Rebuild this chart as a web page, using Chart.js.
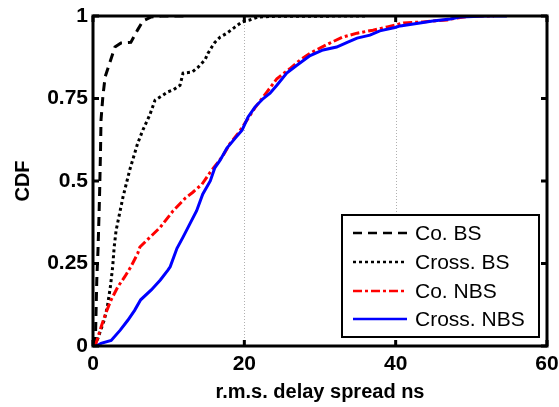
<!DOCTYPE html>
<html>
<head>
<meta charset="utf-8">
<script src="https://cdn.jsdelivr.net/npm/chart.js@4"></script>
<style>
  html, body { margin: 0; padding: 0; background: #fff; }
  #wrap { width: 559px; height: 407px; }
</style>
</head>
<body>
<div id="wrap"><canvas id="cdf"></canvas></div>
<script>
// values (x = r.m.s. delay spread in ns, y = CDF)
const coBsX = [0.3, 0.4, 0.5, 0.66, 0.8, 0.88, 1.0, 1.06, 1.3, 1.6, 2.2, 2.9, 3.7, 5.0, 5.9, 6.6, 7.7, 9.0, 12.5];
const coBsY = [0, 0.1, 0.2, 0.29, 0.4, 0.47, 0.6, 0.685, 0.755, 0.815, 0.857, 0.906, 0.918, 0.92, 0.958, 0.985, 0.997, 1, 1];

const crossBsX = [0.3, 0.9, 1.5, 1.9, 2.3, 2.6, 2.8, 3.05, 3.5, 3.96, 4.85, 5.9, 6.6, 7.5, 8.2, 8.9, 9.9, 10.6, 11.5, 11.9, 13.1, 13.9, 14.8, 15.2, 15.7, 16.1, 16.8, 17.7, 18.8, 19.7, 20.7, 21.8, 24, 36];
const crossBsY = [0, 0.04, 0.08, 0.12, 0.18, 0.24, 0.30, 0.35, 0.40, 0.451, 0.533, 0.614, 0.655, 0.70, 0.745, 0.755, 0.77, 0.776, 0.79, 0.827, 0.83, 0.845, 0.867, 0.887, 0.906, 0.92, 0.936, 0.948, 0.967, 0.982, 0.988, 0.997, 0.999, 1];

const coNbsX = [0.2, 0.4, 1.06, 1.7, 2.4, 3.3, 4.2, 5.0, 5.9, 6.2, 8.9, 10.6, 12.2, 13.2, 14.4, 15.5, 16.4, 17.2, 18.1, 19.2, 20.5, 21.5, 23.0, 24.3, 26.0, 27.4, 28.9, 31.3, 33.0, 34.9, 37.0, 38.9, 41, 43.6, 46.8, 48, 50.2, 53];
const coNbsY = [0, 0.008, 0.057, 0.1, 0.14, 0.18, 0.21, 0.24, 0.28, 0.30, 0.36, 0.41, 0.448, 0.466, 0.49, 0.527, 0.553, 0.578, 0.613, 0.645, 0.69, 0.725, 0.77, 0.81, 0.84, 0.867, 0.89, 0.918, 0.936, 0.948, 0.957, 0.967, 0.979, 0.982, 0.988, 0.994, 1.0, 1.0];

const crossNbsX = [0.5, 1.06, 2.4, 3.6, 4.6, 5.5, 6.3, 7.7, 8.9, 9.9, 10.2, 11.1, 11.9, 12.8, 13.7, 14.5, 15.5, 16.1, 16.8, 17.7, 18.8, 19.7, 20.5, 21.4, 22.5, 23.4, 24.3, 25.6, 26.9, 28.7, 30.4, 32.2, 33.6, 34.9, 36.6, 37.9, 39.9, 40.6, 43.2, 44.9, 47.2, 48.5, 52, 54.7];
const crossNbsY = [0, 0.008, 0.017, 0.048, 0.078, 0.108, 0.14, 0.17, 0.2, 0.23, 0.24, 0.296, 0.33, 0.37, 0.41, 0.46, 0.50, 0.54, 0.563, 0.6, 0.63, 0.654, 0.694, 0.724, 0.75, 0.766, 0.79, 0.827, 0.85, 0.88, 0.897, 0.906, 0.92, 0.933, 0.942, 0.955, 0.965, 0.97, 0.979, 0.985, 0.991, 0.997, 1.0, 1.0];

const seriesNames = ['Co. BS', 'Cross. BS', 'Co. NBS', 'Cross. NBS'];
const xTicks = [0, 20, 40, 60];
const yTicks = [0, 0.25, 0.5, 0.75, 1];
const xGridAt = [20, 40];

const FONT = "'Liberation Sans', Arial, sans-serif";

function pts(xs, ys) {
    return xs.map((x, i) => ({ x: x, y: ys[i] }));
}

// MATLAB-like frame: box, inward ticks, dotted vertical grid, legend box
const matlabFrame = {
    id: 'matlabFrame',
    beforeDatasetsDraw(chart) {
        const { ctx, chartArea: a, scales: { x } } = chart;
        ctx.save();
        ctx.strokeStyle = '#b0b0b0';
        ctx.lineWidth = 1;
        ctx.setLineDash([1, 2]);
        xGridAt.forEach(v => {
            const px = Math.round(x.getPixelForValue(v)) + 0.5;
            ctx.beginPath();
            ctx.moveTo(px, a.top);
            ctx.lineTo(px, a.bottom);
            ctx.stroke();
        });
        ctx.restore();
    },
    afterDatasetsDraw(chart) {
        const { ctx, chartArea: a, scales: { x, y } } = chart;
        ctx.save();
        ctx.strokeStyle = '#000';
        ctx.lineWidth = 3;
        ctx.setLineDash([]);
        ctx.strokeRect(a.left, a.top, a.right - a.left, a.bottom - a.top);

        const tl = 6;
        ctx.lineWidth = 3;
        xTicks.forEach(v => {
            const px = x.getPixelForValue(v);
            ctx.beginPath();
            ctx.moveTo(px, a.bottom); ctx.lineTo(px, a.bottom - tl);
            ctx.moveTo(px, a.top); ctx.lineTo(px, a.top + tl);
            ctx.stroke();
        });
        yTicks.forEach(v => {
            const py = y.getPixelForValue(v);
            ctx.beginPath();
            ctx.moveTo(a.left, py); ctx.lineTo(a.left + tl, py);
            ctx.moveTo(a.right, py); ctx.lineTo(a.right - tl, py);
            ctx.stroke();
        });

        // legend
        const box = { l: 342, t: 215, r: 539, b: 337 };
        ctx.fillStyle = '#fff';
        ctx.fillRect(box.l, box.t, box.r - box.l, box.b - box.t);
        ctx.lineWidth = 2;
        ctx.strokeRect(box.l, box.t, box.r - box.l, box.b - box.t);
        const rowY = [233, 262, 291, 319];
        ctx.font = '21px ' + FONT;
        ctx.textBaseline = 'middle';
        ctx.textAlign = 'left';
        chart.data.datasets.forEach((ds, i) => {
            const yy = rowY[i];
            ctx.strokeStyle = ds.borderColor;
            ctx.lineWidth = Math.min(ds.borderWidth, 2.5);
            ctx.setLineDash(ds.borderDash || []);
            ctx.beginPath();
            ctx.moveTo(353, yy);
            ctx.lineTo(407, yy);
            ctx.stroke();
            ctx.setLineDash([]);
            ctx.fillStyle = '#000';
            ctx.fillText(ds.label, 415, yy + 1);
        });
        ctx.restore();
    }
};

new Chart(document.getElementById('cdf'), {
    type: 'line',
    data: {
        datasets: [
            { label: seriesNames[0], data: pts(coBsX, coBsY), borderColor: '#000', borderWidth: 3, borderDash: [9, 6], order: 3 },
            { label: seriesNames[1], data: pts(crossBsX, crossBsY), borderColor: '#000', borderWidth: 3, borderDash: [3, 3], order: 2 },
            { label: seriesNames[2], data: pts(coNbsX, coNbsY), borderColor: '#ff0000', borderWidth: 3, borderDash: [9, 3, 3, 3], order: 1 },
            { label: seriesNames[3], data: pts(crossNbsX, crossNbsY), borderColor: '#0000ff', borderWidth: 3, order: 0 }
        ]
    },
    options: {
        responsive: true,
        maintainAspectRatio: false,
        animation: false,
        elements: { point: { radius: 0 }, line: { tension: 0, fill: false } },
        layout: { padding: { left: 0, right: 12, top: 16, bottom: 0 } },
        plugins: { legend: { display: false }, tooltip: { enabled: false } },
        scales: {
            x: {
                type: 'linear',
                min: 0, max: 60,
                afterBuildTicks: s => { s.ticks = xTicks.map(v => ({ value: v })); },
                afterFit: s => { s.height = 61; s.paddingLeft = 0; s.paddingRight = 0; },
                grid: { display: false, drawTicks: false },
                border: { display: false },
                ticks: { color: '#000', padding: 6, maxRotation: 0, font: { family: FONT, size: 21, weight: 'bold' } },
                title: { display: true, text: 'r.m.s. delay spread ns', color: '#000', padding: { top: 0, bottom: 3 }, font: { family: FONT, size: 20, weight: 'bold' } }
            },
            y: {
                type: 'linear',
                min: 0, max: 1,
                afterBuildTicks: s => { s.ticks = yTicks.map(v => ({ value: v })); },
                afterFit: s => { s.width = 93; s.paddingTop = 0; s.paddingBottom = 0; },
                grid: { display: false, drawTicks: false },
                border: { display: false },
                ticks: { color: '#000', padding: 5, callback: v => String(v), font: { family: FONT, size: 21, weight: 'bold' } },
                title: { display: true, text: 'CDF', color: '#000', padding: { top: 11, bottom: 0 }, font: { family: FONT, size: 20, weight: 'bold' } }
            }
        }
    },
    plugins: [matlabFrame]
});
</script>
</body>
</html>
